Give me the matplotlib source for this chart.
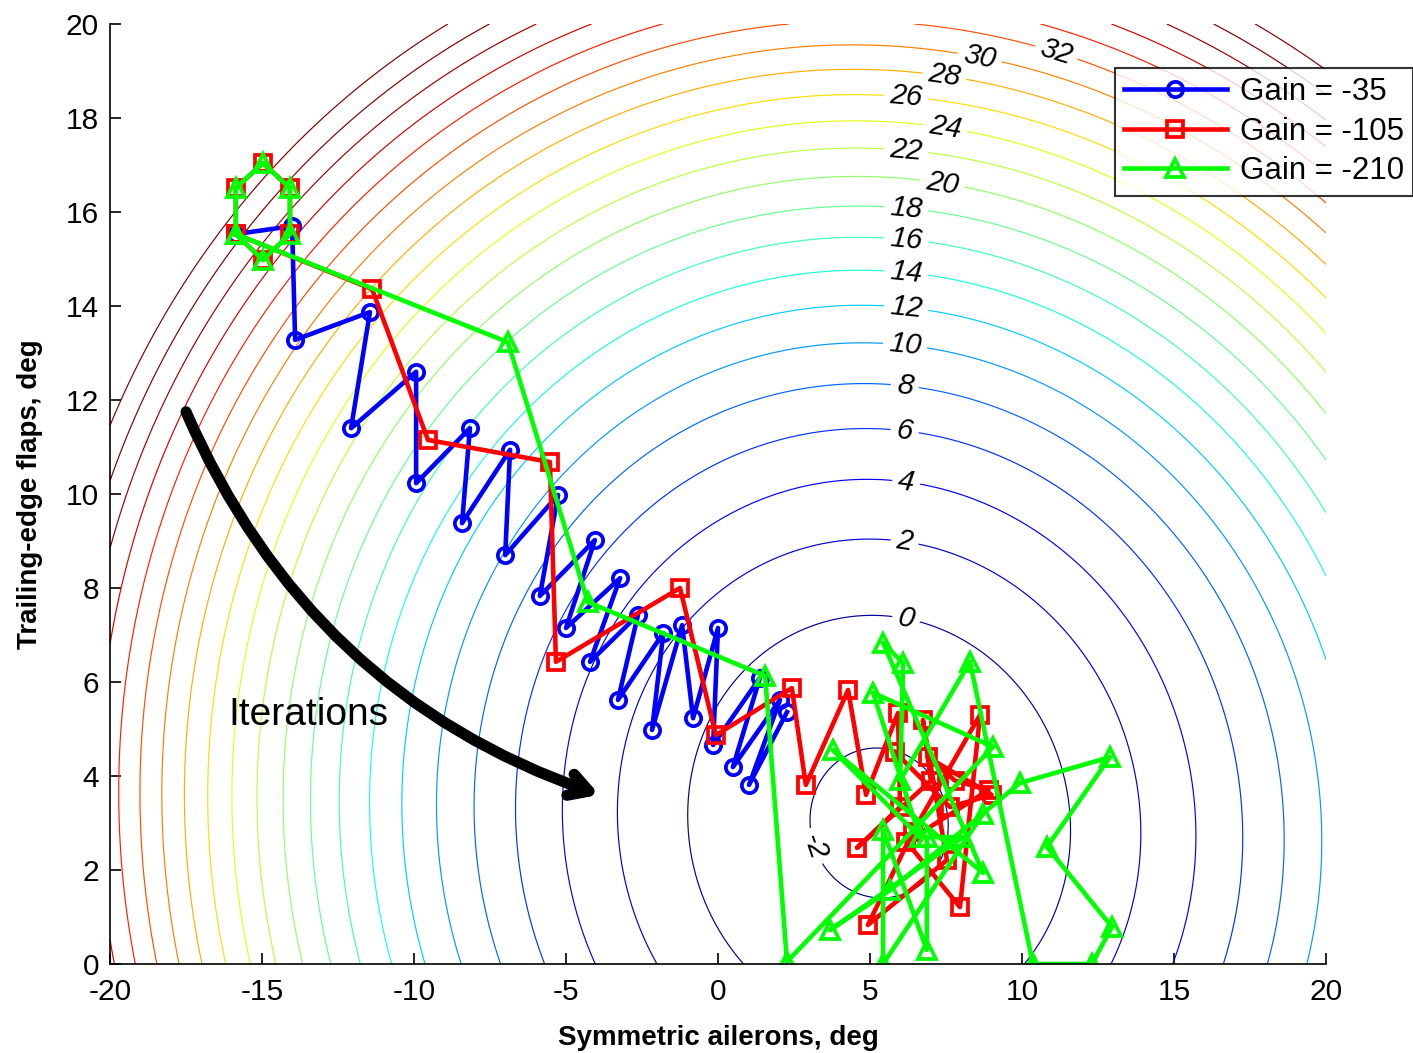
import numpy as np
import matplotlib
matplotlib.use("Agg")
import matplotlib.pyplot as plt
from matplotlib.colors import Normalize

plt.rcParams['font.family'] = ['Liberation Sans', 'DejaVu Sans']
plt.rcParams['axes.unicode_minus'] = False

x_range = [-20, 20]
y_range = [0, 20]
center_x, center_y = 5.3, 3.0
min_cost = -2.3
coef_xx, coef_yy, coef_xy = 0.0581, 0.118, 0.0062
contour_levels = list(range(-2, 43, 2))
color_limits = (-1, 39)

label_positions = [(6.2, 7.38), (6.15, 9.02), (6.2, 10.3), (6.15, 11.4), (6.15, 12.32),
                   (6.15, 13.17), (6.2, 13.98), (6.2, 14.74), (6.2, 15.45), (6.2, 16.15),
                   (7.4, 16.64), (6.2, 17.38), (7.47, 17.81), (6.2, 18.49), (7.47, 18.98),
                   (8.6, 19.28), (11.1, 19.34), (2.86, 2.43)]
label_levels = [0, 2, 4, 6, 8, 10, 12, 14, 16, 18, 20, 22, 24, 26, 28, 30, 32, -2]

# ---- trajectories ----
blue_x = [-15.86, -14.01, -13.91, -11.45, -12.07, -9.93, -9.93, -8.16, -8.42, -6.84, -7.0,
          -5.26, -5.86, -4.05, -5.0, -3.22, -4.21, -2.63, -3.29, -1.8, -2.17, -1.18, -0.82,
          0.0, -0.16, 1.38, 0.49, 2.04, 1.02, 2.27]
blue_y = [15.53, 15.70, 13.28, 13.87, 11.40, 12.6, 10.23, 11.4, 9.38, 10.94, 8.7,
          9.98, 7.83, 9.02, 7.15, 8.21, 6.43, 7.43, 5.62, 7.04, 4.98, 7.21, 5.23,
          7.15, 4.66, 6.09, 4.19, 5.62, 3.81, 5.36]

red_x = [-15.86, -15.86, -14.97, -14.08, -14.08, -14.97, -15.86,
         -11.38, -9.54, -5.53, -5.33, -1.25, -0.07, 2.43, 2.89, 4.28, 4.87,
         5.92, 5.99, 4.57, 7.0, 6.74, 7.53, 4.93, 6.4, 8.62, 7.96, 6.2, 8.9,
         7.8, 6.9, 9.0, 7.63, 5.82]
red_y = [15.53, 16.51, 17.04, 16.51, 15.53, 14.98, 15.53,
         14.36, 11.15, 10.68, 6.43, 8.0, 4.87, 5.87, 3.81, 5.83, 3.6,
         5.34, 3.34, 2.47, 3.9, 5.19, 2.21, 0.83, 2.8, 5.3, 1.21, 2.6, 3.7,
         3.9, 4.4, 3.6, 3.34, 4.51]

green_x = [-15.86, -15.86, -14.97, -14.08, -14.08, -14.97, -15.86,
           -6.91, -4.28, 1.55, 2.27, 9.05, 5.1, 6.64, 3.78, 8.72, 5.43,
           6.09, 5.99, 8.29, 10.36, 12.3, 12.96, 10.82, 12.89, 9.93, 5.66,
           3.68, 8.06, 6.87, 6.87, 5.43, 5.43, 8.72]
green_y = [15.53, 16.51, 17.04, 16.51, 15.53, 14.98, 15.53,
           13.23, 7.7, 6.13, 0.05, 4.62, 5.77, 2.7, 4.55, 1.94, 6.83,
           6.4, 3.91, 6.43, 0.0, 0.0, 0.79, 2.49, 4.4, 3.85, 1.57,
           0.72, 2.7, 2.7, 0.3, 2.85, 0.0, 3.2]

series_labels = ['Gain = -35', 'Gain = -105', 'Gain = -210']

arrow_start = (-17.5, 11.75)
arrow_end = (-3.9, 3.6)
annotation_text = 'Iterations'
xlabel = 'Symmetric ailerons, deg'
ylabel = 'Trailing-edge flaps, deg'

# ---- figure ----
fig = plt.figure(figsize=(14.13, 10.53), dpi=100)
ax = fig.add_axes([110 / 1413, 1 - 964 / 1053, (1326 - 110) / 1413, (964 - 24) / 1053])

gx = np.linspace(x_range[0], x_range[1], 401)
gy = np.linspace(y_range[0], y_range[1], 201)
X, Y = np.meshgrid(gx, gy)
DX, DY = X - center_x, Y - center_y
Z = min_cost + coef_xx * DX ** 2 + coef_yy * DY ** 2 + coef_xy * DX * DY

cs = ax.contour(X, Y, Z, levels=contour_levels, cmap='jet', linewidths=0.85,
                norm=Normalize(vmin=color_limits[0], vmax=color_limits[1], clip=True))
texts = ax.clabel(cs, levels=label_levels, manual=label_positions, inline=True,
                  inline_spacing=6, fontsize=21, fmt='%d', colors='black')
for t in texts:
    t.set_fontstyle('italic')

lw = 3.3
mew = 2.7
ax.plot(blue_x, blue_y, '-o', color=(0, 0, 1), lw=lw, ms=11, mfc='none', mew=mew, label=series_labels[0])
ax.plot(red_x, red_y, '-s', color=(1, 0, 0), lw=lw, ms=11, mfc='none', mew=mew, label=series_labels[1])
ax.plot(green_x, green_y, '-^', color=(0, 1, 0), lw=lw, ms=12.5, mfc='none', mew=mew, label=series_labels[2])

ax.annotate('', xy=arrow_end, xytext=arrow_start,
            arrowprops=dict(arrowstyle='->,head_length=1.4,head_width=0.8', color='black',
                            lw=8, connectionstyle='arc3,rad=0.22', shrinkA=0, shrinkB=0))
ax.text(-16.1, 5.3, annotation_text, fontsize=28, ha='left', va='center')

ax.set_xlim(x_range)
ax.set_ylim(y_range)
ax.set_xticks(range(-20, 21, 5))
ax.set_yticks(range(0, 21, 2))
ax.tick_params(direction='in', length=8, width=1.2, labelsize=21.5)
ax.tick_params(axis='x', pad=10)
ax.tick_params(axis='y', pad=8)
for s in ['top', 'right']:
    ax.spines[s].set_visible(False)
for s in ['left', 'bottom']:
    ax.spines[s].set_linewidth(1.2)
ax.set_xlabel(xlabel, fontsize=20, fontweight='bold', labelpad=14)
ax.set_ylabel(ylabel, fontsize=20, fontweight='bold', labelpad=16)

leg = ax.legend(loc='upper right', bbox_to_anchor=(1.0, 1 - 68 / 1053),
                bbox_transform=fig.transFigure, fontsize=22.5, handlelength=3.3,
                numpoints=1, frameon=True, fancybox=False, borderpad=0.3,
                labelspacing=0.3, handletextpad=0.4, borderaxespad=0)
leg.get_frame().set_edgecolor('black')
leg.get_frame().set_linewidth(1.5)

fig.savefig('out.png', dpi=100)
